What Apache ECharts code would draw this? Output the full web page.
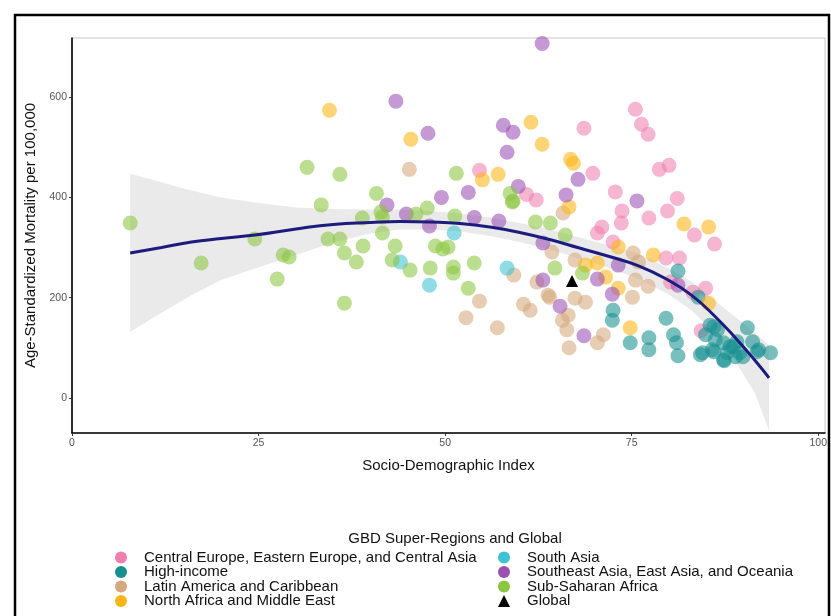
<!DOCTYPE html>
<html><head><meta charset="utf-8">
<script src="https://cdn.jsdelivr.net/npm/echarts@6/dist/echarts.min.js"></script>
<style>html,body{margin:0;padding:0;background:#fff}#c{width:831px;height:616px}</style>
</head><body><div id="c"></div><script>
// ---------- data ----------
const xTicks = [0, 25, 50, 75, 100];
const yTicks = [0, 200, 400, 600];
const xTitle = 'Socio-Demographic Index';
const yTitle = 'Age-Standardized Mortality per 100,000';
const legendTitle = 'GBD Super-Regions and Global';
const regionNames = [
  'Central Europe, Eastern Europe, and Central Asia',
  'High-income',
  'Latin America and Caribbean',
  'North Africa and Middle East',
  'South Asia',
  'Southeast Asia, East Asia, and Oceania',
  'Sub-Saharan Africa',
  'Global'
];
const regionColors = ['#F07FB0', '#16908F', '#D4A87C', '#FDB515', '#3EC3D6', '#9B4FB3', '#8CC63F', '#000000'];

const centralEurope = [[54.6,454],[68.6,538],[69.8,448],[75.5,576],[76.3,546],[77.2,526],[78.7,456],[80,464],[72.8,411],[81.1,398],[73.7,373],[79.8,373],[77.3,359],[73.6,349],[71,341],[70.4,329],[60.9,406],[62.2,395],[83.4,325],[86.1,307],[72.5,311],[79.6,279],[81.4,279],[80.2,231],[84.9,219],[84.3,134],[83.2,211]];
const highIncome = [[72.5,175],[72.4,155],[74.8,110],[77.3,120],[77.3,96],[79.6,159],[80.6,126],[81,110],[81.2,84],[81.2,253],[83.9,201],[85.5,145],[84.9,126],[86.5,136],[86.2,116],[84.5,90],[86,92],[87.3,110],[87.8,90],[87.4,74],[88.6,102],[89.5,90],[89.1,112],[90.5,140],[91.2,112],[91.8,92],[93.6,90],[89.9,82],[84.2,86],[85.8,96],[87.3,76],[88.2,102],[88.9,82],[92,96],[86,142]];
const latinAmerica = [[45.2,456],[65.8,369],[54.6,193],[52.8,160],[57,140],[60.5,187],[61.4,175],[59.2,245],[62.3,231],[64,201],[66.5,165],[66.6,100],[66.3,136],[67.4,199],[64.3,291],[67.4,275],[68.8,191],[65.7,155],[71.2,126],[70.4,110],[75.1,201],[75.5,235],[77.2,223],[75.9,271],[75.2,289],[63.8,205]];
const northAfrica = [[34.5,574],[45.4,516],[55,435],[57.1,446],[61.5,550],[63,506],[66.8,476],[67.2,468],[66.6,381],[82,347],[85.3,341],[73.2,301],[68.8,265],[70.4,269],[71.5,241],[73.2,219],[77.9,285],[74.8,140],[85.3,189]];
const southAsia = [[51.2,329],[47.9,225],[58.3,259],[44,271]];
const southeastAsia = [[43.4,592],[47.7,528],[57.8,544],[59.1,530],[63,707],[58.3,490],[67.8,436],[49.5,400],[53.1,410],[59.8,422],[66.2,405],[75.7,393],[70.4,237],[72.4,207],[68.6,124],[65.4,183],[63.1,235],[73.2,265],[63.1,309],[42.2,385],[44.8,367],[47.9,343],[53.9,360],[57.2,353],[81.2,225]];
const subSaharan = [[7.8,349],[17.3,269],[24.5,317],[27.5,237],[28.3,285],[29.1,281],[31.5,460],[33.4,385],[34.3,317],[35.9,317],[35.9,446],[36.5,189],[36.5,289],[38.1,271],[39,303],[38.9,359],[41.6,361],[41.6,329],[43.3,303],[42.9,275],[45.3,255],[46.1,367],[47.6,379],[48,259],[48.7,303],[49.7,297],[50.4,301],[51.1,261],[51.1,249],[51.3,363],[53.9,269],[53.1,219],[59,391],[62.1,351],[64.1,349],[64.7,259],[66.1,325],[68.4,249],[51.5,448],[40.8,408],[41.4,371],[58.7,408],[59.1,393]];
const globalPoint = [[67,233]];

const fitX     = [7.8, 12, 16, 20, 24.5, 30, 35, 40, 44, 48, 52, 56, 60, 64, 68, 72, 76, 80, 83, 86, 89, 91.5, 93.4];
const fitY     = [289, 300, 311, 318, 325, 337, 346, 350, 352, 351, 348, 341, 330, 316, 299, 282, 263, 234, 205, 165, 118, 75, 40];
const fitLower = [132, 170, 205, 235, 258, 285, 310, 328, 336, 336, 332, 323, 311, 296, 278, 259, 237, 206, 175, 130, 70, 10, -65];
const fitUpper = [447, 430, 414, 400, 390, 380, 377, 376, 376, 373, 368, 360, 349, 336, 320, 304, 287, 258, 232, 196, 160, 130, 105];

// ---------- chart ----------
const chart = echarts.init(document.getElementById('c'), null, {renderer: 'canvas'});
const FONT = '"Liberation Sans", Arial, sans-serif';
const regionData = [centralEurope, highIncome, latinAmerica, northAfrica, southAsia, southeastAsia, subSaharan];

const series = [];
series.push({
  type: 'custom',
  name: 'band',
  silent: true,
  clip: true,
  z: 1,
  data: fitX.map((x, i) => [x, fitLower[i], fitUpper[i]]),
  encode: {x: 0, y: [1, 2]},
  renderItem: function (params, api) {
    if (params.dataIndex !== 0) return null;
    const pts = [];
    for (let i = 0; i < fitX.length; i++) pts.push(api.coord([fitX[i], fitUpper[i]]));
    for (let i = fitX.length - 1; i >= 0; i--) pts.push(api.coord([fitX[i], fitLower[i]]));
    return {type: 'polygon', shape: {points: pts}, style: {fill: 'rgba(200,200,200,0.38)', stroke: null}};
  }
});
regionData.forEach((d, i) => {
  series.push({
    type: 'scatter', name: regionNames[i], data: d, symbol: 'circle', symbolSize: 15, z: 2,
    itemStyle: {color: regionColors[i], opacity: 0.58}
  });
});
series.push({
  type: 'line', name: 'fit', data: fitX.map((x, i) => [x, fitY[i]]), smooth: true, showSymbol: false,
  z: 3, silent: true, lineStyle: {color: '#1C1C7E', width: 3}
});
series.push({
  type: 'scatter', name: 'Global', data: globalPoint, symbol: 'triangle', symbolSize: 12, z: 4,
  itemStyle: {color: '#000', opacity: 1}
});

// one legend per entry, 2 columns x 4 rows
const rowTops = [550, 564.5, 579, 593.5];
const colLefts = [115, 498];
const legends = regionNames.map((name, i) => ({
  orient: 'vertical', itemWidth: 12, itemHeight: 12, padding: 0,
  left: colLefts[Math.floor(i / 4)], top: rowTops[i % 4],
  icon: name === 'Global' ? 'triangle' : 'circle', itemStyle: {opacity: 1},
  textStyle: {fontFamily: FONT, fontSize: 15, color: '#111', padding: [0, 0, 0, 12]},
  data: [name]
}));

chart.setOption({
  animation: false,
  backgroundColor: '#fff',
  grid: {left: 72, right: 6, top: 38, bottom: 183, show: true, borderColor: '#c8c8c8', borderWidth: 1},
  title: {
    text: legendTitle, left: 450, top: 526, textAlign: 'center',
    textStyle: {fontFamily: FONT, fontSize: 15, fontWeight: 'normal', color: '#111'}
  },
  legend: legends,
  xAxis: {
    type: 'value', min: 0, max: 100.9,
    name: xTitle, nameLocation: 'middle', nameGap: 25,
    nameTextStyle: {fontFamily: FONT, fontSize: 15, color: '#111'},
    axisLine: {show: true, onZero: false, lineStyle: {color: '#000', width: 1.6}},
    axisTick: {show: true, length: 3, customValues: xTicks, lineStyle: {color: '#333'}},
    axisLabel: {customValues: xTicks, fontFamily: FONT, fontSize: 10.5, color: '#555', margin: 5},
    splitLine: {show: false}
  },
  yAxis: {
    type: 'value', min: -70, max: 718,
    name: yTitle, nameLocation: 'middle', nameGap: 30,
    nameTextStyle: {fontFamily: FONT, fontSize: 15, color: '#111'},
    axisLine: {show: true, onZero: false, lineStyle: {color: '#000', width: 1.6}},
    axisTick: {show: true, length: 3, customValues: yTicks, lineStyle: {color: '#333'}},
    axisLabel: {customValues: yTicks, fontFamily: FONT, fontSize: 10.5, color: '#555', margin: 5},
    splitLine: {show: false}
  },
  graphic: [{
    type: 'rect', silent: true, z: 100,
    shape: {x: 15, y: 15, width: 814, height: 630},
    style: {fill: null, stroke: '#000', lineWidth: 2.5}
  }],
  series: series
});
</script></body></html>
